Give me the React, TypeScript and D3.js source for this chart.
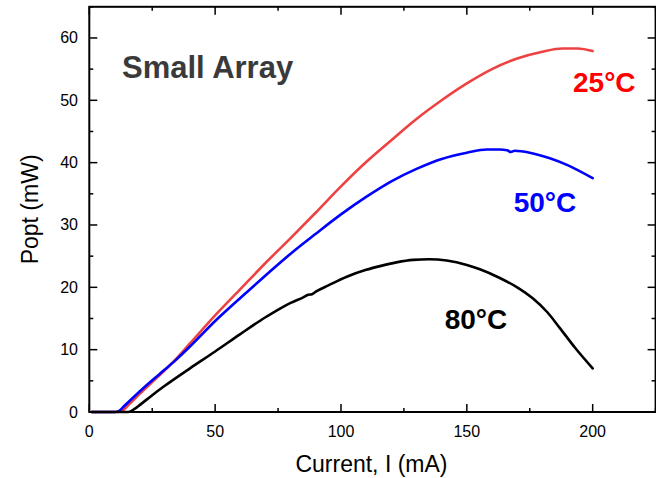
import React from "react";
import * as d3 from "d3";

const W = 656;
const H = 478;

// 25°C
const red_x = [1, 5, 10, 13, 16, 20, 25, 30, 34, 40, 50, 60, 70, 80, 90, 100, 110, 120, 130, 140, 150, 160, 170, 180, 188, 194, 200];
const red_y = [0, 0, 0, 0.2, 1.3, 2.9, 4.8, 6.7, 8.3, 11.0, 15.5, 19.7, 23.9, 27.9, 32.0, 36.2, 40.1, 43.6, 47.0, 50.0, 52.7, 55.0, 56.7, 57.8, 58.3, 58.3, 57.9];
// 50°C
const blue_x = [1, 5, 10, 11.5, 14, 20, 25, 30, 34, 40, 50, 60, 70, 80, 90, 100, 110, 120, 130, 140, 150, 158, 163, 166, 167.5, 169, 175, 183, 190, 200];
const blue_y = [0, 0, 0, 0.1, 1.0, 3.3, 5.1, 6.8, 8.2, 10.5, 14.6, 18.3, 21.9, 25.4, 28.6, 31.7, 34.5, 37.0, 39.0, 40.6, 41.6, 42.1, 42.1, 42.0, 41.7, 41.9, 41.6, 40.7, 39.6, 37.5];
// 80°C
const black_x = [1, 10, 15.5, 18, 20, 25, 30, 40, 50, 60, 70, 75.8, 80, 85, 87, 88.5, 90, 95, 102.3, 110, 115.5, 122, 128.7, 135, 142, 150, 155.2, 163.1, 170, 176.3, 182, 186.9, 193, 200];
const black_y = [0, 0, 0, 0.5, 1.1, 2.7, 4.2, 7.0, 9.7, 12.5, 15.2, 16.6, 17.5, 18.4, 18.8, 18.9, 19.3, 20.3, 21.7, 22.8, 23.4, 24.0, 24.4, 24.5, 24.3, 23.6, 22.9, 21.5, 20.0, 18.2, 16.0, 13.5, 10.3, 7.0];

const xTicks = [0, 50, 100, 150, 200];
const yTicks = [0, 10, 20, 30, 40, 50, 60];
const xMinor = [25, 75, 125, 175, 225];
const yMinor = [5, 15, 25, 35, 45, 55, 65];

const seriesNames = ["25°C", "50°C", "80°C"];
const seriesColors = ["#ee4242", "#0000ff", "#000000"];
const labelColors = ["#ff0000", "#0000ff", "#000000"];
// annotation anchors in data coords (x start, y baseline)
const labelX = [192.2, 168.6, 141.2];
const labelY = [51.4, 32.1, 13.3];

const title = "Small Array";

export default function App() {
  const left = 89.3, right = 655.6, top = 6.8, bottom = 412;
  const x = d3.scaleLinear().domain([0, 225]).range([left, right]);
  const y = d3.scaleLinear().domain([0, 65]).range([bottom, top]);

  const line = d3
    .line<[number, number]>()
    .x((d) => x(d[0]))
    .y((d) => y(d[1]))
    .curve(d3.curveMonotoneX);

  const series = [
    red_x.map((v, i) => [v, red_y[i]] as [number, number]),
    blue_x.map((v, i) => [v, blue_y[i]] as [number, number]),
    black_x.map((v, i) => [v, black_y[i]] as [number, number]),
  ];

  const font = "Liberation Sans, Arial, Helvetica, sans-serif";
  const maj = 8, min = 4;

  return (
    <svg
      width={W}
      height={H}
      style={{ position: "absolute", left: 0, top: 0, background: "#fff" }}
      fontFamily={font}
    >
      {series.map((s, i) => (
        <path
          key={i}
          d={line(s) || ""}
          fill="none"
          stroke={seriesColors[i]}
          strokeWidth={2.6}
          strokeLinejoin="round"
          strokeLinecap="round"
        />
      ))}

      <rect x={left} y={top} width={right - left} height={bottom - top} fill="none" stroke="#000" strokeWidth={2} />

      {xTicks.map((t) => (
        <g key={"xt" + t}>
          <line x1={x(t)} x2={x(t)} y1={bottom} y2={bottom - maj} stroke="#000" strokeWidth={1.5} />
          <line x1={x(t)} x2={x(t)} y1={top} y2={top + maj} stroke="#000" strokeWidth={1.5} />
          <text x={x(t)} y={437} fontSize={16} textAnchor="middle" fill="#000">
            {t}
          </text>
        </g>
      ))}
      {xMinor.map((t) => (
        <g key={"xm" + t}>
          <line x1={x(t)} x2={x(t)} y1={bottom} y2={bottom - min} stroke="#000" strokeWidth={1.5} />
          <line x1={x(t)} x2={x(t)} y1={top} y2={top + min} stroke="#000" strokeWidth={1.5} />
        </g>
      ))}

      {yTicks.map((t) => (
        <g key={"yt" + t}>
          <line x1={left} x2={left + maj} y1={y(t)} y2={y(t)} stroke="#000" strokeWidth={1.5} />
          <line x1={right} x2={right - maj} y1={y(t)} y2={y(t)} stroke="#000" strokeWidth={1.5} />
          <text x={78} y={y(t) + 5.5} fontSize={16} textAnchor="end" fill="#000">
            {t}
          </text>
        </g>
      ))}
      {yMinor.map((t) => (
        <g key={"ym" + t}>
          <line x1={left} x2={left + min} y1={y(t)} y2={y(t)} stroke="#000" strokeWidth={1.5} />
          <line x1={right} x2={right - min} y1={y(t)} y2={y(t)} stroke="#000" strokeWidth={1.5} />
        </g>
      ))}

      <text x={(left + right) / 2 - 1} y={472} fontSize={23} textAnchor="middle" fill="#000">
        Current, I (mA)
      </text>
      <text
        transform={`translate(38, ${(top + bottom) / 2}) rotate(-90)`}
        fontSize={23}
        textAnchor="middle"
        fill="#000"
      >
        Popt (mW)
      </text>

      <text x={122} y={78.3} fontSize={31} fontWeight="bold" fill="#3a3a3a">
        {title}
      </text>

      {seriesNames.map((n, i) => (
        <text key={n} x={x(labelX[i])} y={y(labelY[i])} fontSize={28} fontWeight="bold" fill={labelColors[i]}>
          {n}
        </text>
      ))}
    </svg>
  );
}
